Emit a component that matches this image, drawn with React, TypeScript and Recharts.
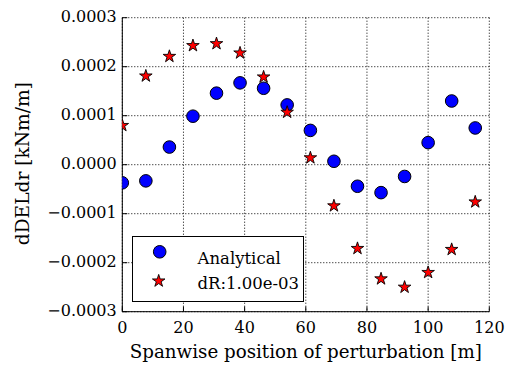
import React from 'react';
import { ScatterChart, Scatter, XAxis, YAxis, CartesianGrid, Legend, Label } from 'recharts';

const positions = [0, 7.7, 15.4, 23.1, 30.8, 38.5, 46.2, 53.9, 61.5, 69.2, 76.9, 84.6, 92.3, 100.0, 107.7, 115.4];
const analytical = [-0.000037, -0.000033, 0.000036, 0.000099, 0.000146, 0.000167, 0.000156, 0.000122, 0.00007, 0.000007, -0.000044, -0.000057, -0.000024, 0.000045, 0.00013, 0.000075];
const finiteDiff = [0.00008, 0.000181, 0.000221, 0.000243, 0.000247, 0.000228, 0.000179, 0.000107, 0.000014, -0.000084, -0.000171, -0.000233, -0.00025, -0.00022, -0.000173, -0.000076];
const xTicks = [0, 20, 40, 60, 80, 100, 120];
const yTicks = [-0.0003, -0.0002, -0.0001, 0, 0.0001, 0.0002, 0.0003];
const seriesNames = ['Analytical', 'dR:1.00e-03'];

const analyticalData = positions.map((x, i) => ({ x, y: analytical[i] }));
const fdData = positions.map((x, i) => ({ x, y: finiteDiff[i] }));

const FONT = '"DejaVu Serif", serif';
const TICK = 5;

const fmtY = (v: number) => {
  const s = Math.abs(v) < 1e-12 ? '0.0000' : v.toFixed(4);
  return s.replace('-', '\u2212');
};

const starPoints = (cx: number, cy: number, R: number) => {
  const r = R * 0.382;
  const pts: string[] = [];
  for (let k = 0; k < 10; k++) {
    const ang = -Math.PI / 2 + (k * Math.PI) / 5;
    const rad = k % 2 === 0 ? R : r;
    pts.push(`${cx + rad * Math.cos(ang)},${cy + rad * Math.sin(ang)}`);
  }
  return pts.join(' ');
};

const Circle = (p: any) => <circle cx={p.cx} cy={p.cy} r={6.3} fill="#0000ff" stroke="#000" strokeWidth={1} />;
const Star = (p: any) => <polygon points={starPoints(p.cx, p.cy, 6.6)} fill="#ff0000" stroke="#000" strokeWidth={0.9} strokeLinejoin="miter" />;

const LeftTick = (p: any) => (
  <g>
    <line x1={p.x} x2={p.x + TICK} y1={p.y} y2={p.y} stroke="#000" strokeWidth={1} />
    <text x={p.x - 5.6} y={p.y + 4.5} textAnchor="end" fontFamily={FONT} fontSize={16} fill="#000">{fmtY(p.payload.value)}</text>
  </g>
);
const RightTick = (p: any) => (
  <line x1={p.x} x2={p.x - TICK} y1={p.y} y2={p.y} stroke="#000" strokeWidth={1} />
);
const BottomTick = (p: any) => (
  <g>
    <line x1={p.x} x2={p.x} y1={p.y} y2={p.y - TICK} stroke="#000" strokeWidth={1} />
    <text x={p.x} y={p.y + 21.6} textAnchor="middle" fontFamily={FONT} fontSize={16} fill="#000">{p.payload.value}</text>
  </g>
);
const TopTick = (p: any) => (
  <line x1={p.x} x2={p.x} y1={p.y} y2={p.y + TICK} stroke="#000" strokeWidth={1} />
);

const LegendBox = () => (
  <svg width={172} height={66} style={{ display: 'block' }}>
    <rect x={0.5} y={0.5} width={171} height={65} fill="#fff" stroke="#000" strokeWidth={1} />
    <circle cx={27.7} cy={15.8} r={6.3} fill="#0000ff" stroke="#000" strokeWidth={1} />
    <text x={65.5} y={28.3} fontFamily={FONT} fontSize={16.5} fill="#000">{seriesNames[0]}</text>
    <polygon points={starPoints(26.7, 45, 6.6)} fill="#ff0000" stroke="#000" strokeWidth={0.9} />
    <text x={65.5} y={53.3} fontFamily={FONT} fontSize={16.5} fill="#000">{seriesNames[1]}</text>
  </svg>
);

const XLabel = (p: any) => {
  const vb = p.viewBox;
  return (
    <text x={vb.x + vb.width / 2} y={vb.y + 46.6} textAnchor="middle" fontFamily={FONT} fontSize={18} fill="#000"
      textLength={352} lengthAdjust="spacingAndGlyphs">
      Spanwise position of perturbation [m]
    </text>
  );
};
const YLabel = (p: any) => {
  const vb = p.viewBox;
  const cx = 29;
  const cy = vb.y + vb.height / 2 - 1;
  return (
    <text x={cx} y={cy} transform={`rotate(-90 ${cx} ${cy})`} textAnchor="middle" fontFamily={FONT} fontSize={18} fill="#000"
      textLength={163} lengthAdjust="spacingAndGlyphs">
      dDELdr [kNm/m]
    </text>
  );
};

export default function App() {
  return (
    <div style={{ position: 'absolute', left: 0, top: 0, width: 506, height: 369, background: '#fff' }}>
      <ScatterChart width={506} height={369} margin={{ top: 17.7, right: 16.7, bottom: 27.3, left: 22.3 }}>
        <CartesianGrid xAxisId="b" yAxisId="l" stroke="#000" strokeWidth={1} strokeDasharray="1 2" horizontalValues={yTicks} verticalValues={xTicks} />
        <XAxis xAxisId="b" dataKey="x" type="number" domain={[0, 120]} ticks={xTicks} orientation="bottom" height={30}
          tickSize={0} tickMargin={0} tickLine={false} axisLine={{ stroke: '#000', strokeWidth: 1 }} tick={<BottomTick />} allowDataOverflow interval={0}>
          <Label content={<XLabel />} />
        </XAxis>
        <XAxis xAxisId="t" dataKey="x" type="number" domain={[0, 120]} ticks={xTicks} orientation="top" height={0}
          tickSize={0} tickMargin={0} tickLine={false} axisLine={{ stroke: '#000', strokeWidth: 1 }} tick={<TopTick />} allowDataOverflow interval={0} />
        <YAxis yAxisId="l" dataKey="y" type="number" domain={[-0.0003, 0.0003]} ticks={yTicks} orientation="left" width={100}
          tickSize={0} tickMargin={0} tickLine={false} axisLine={{ stroke: '#000', strokeWidth: 1 }} tick={<LeftTick />} allowDataOverflow interval={0}>
          <Label content={<YLabel />} />
        </YAxis>
        <YAxis yAxisId="r" dataKey="y" type="number" domain={[-0.0003, 0.0003]} ticks={yTicks} orientation="right" width={0}
          tickSize={0} tickMargin={0} tickLine={false} axisLine={{ stroke: '#000', strokeWidth: 1 }} tick={<RightTick />} allowDataOverflow interval={0} />
        <Legend layout="vertical" align="center" verticalAlign="middle" content={() => <LegendBox />}
          wrapperStyle={{ position: 'absolute', left: 132, top: 236, width: 172, height: 66 }} />
        <Scatter name={seriesNames[0]} data={analyticalData} xAxisId="b" yAxisId="l" shape={Circle} isAnimationActive={false} />
        <Scatter name={seriesNames[1]} data={fdData} xAxisId="b" yAxisId="l" shape={Star} isAnimationActive={false} />
      </ScatterChart>
    </div>
  );
}
